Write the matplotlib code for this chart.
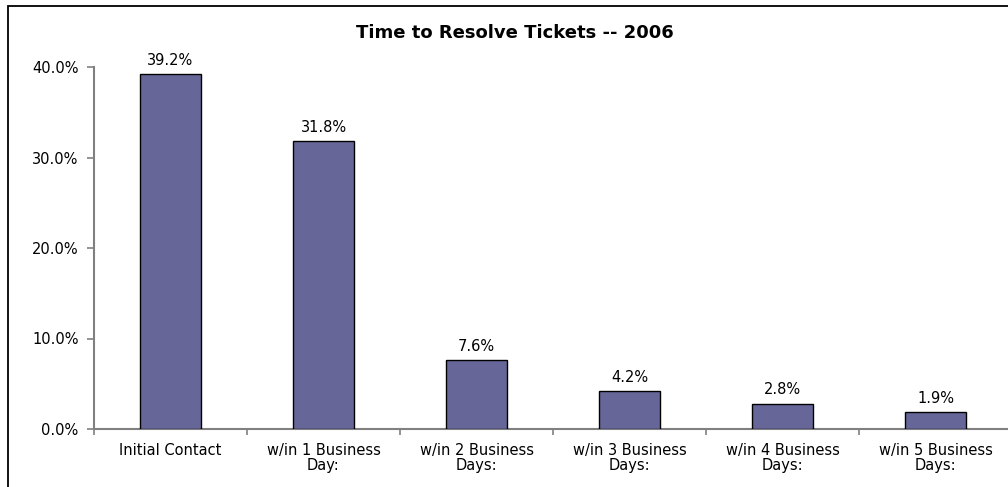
import numpy as np
import matplotlib
matplotlib.use("Agg")
import matplotlib.pyplot as plt
from matplotlib.patches import Rectangle
from matplotlib.ticker import FuncFormatter

# data
categories = ["Initial Contact", "w/in 1 Business\nDay:", "w/in 2 Business\nDays:",
              "w/in 3 Business\nDays:", "w/in 4 Business\nDays:", "w/in 5 Business\nDays:"]
shares = [39.2, 31.8, 7.6, 4.2, 2.8, 1.9]
bar_labels = ["39.2%", "31.8%", "7.6%", "4.2%", "2.8%", "1.9%"]
y_ticks = [0, 10, 20, 30, 40]

plt.rcParams['font.family'] = ['DejaVu Sans']

W, H = 1008, 487
fig = plt.figure(figsize=(W / 100, H / 100), dpi=100)

# outer chart frame (runs off the right and bottom edges)
fig.patches.append(Rectangle((8 / W, -0.2), 1.2, 1 - 6 / H + 0.2, transform=fig.transFigure,
                             fill=False, edgecolor='black', linewidth=1.3, clip_on=False))

ax = fig.add_axes([94 / W, 1 - 429 / H, (1012 - 94) / W, (429 - 67) / H])
x = np.arange(len(categories))
ax.bar(x, shares, width=0.4, color='#666699', edgecolor='black', linewidth=1.0, zorder=3)

for xi, v, lab in zip(x, shares, bar_labels):
    ax.annotate(lab, (xi, v), xytext=(0, 4.5), textcoords='offset points',
                ha='center', va='bottom', fontsize=10.5)

ax.set_xlim(-0.5, len(categories) - 0.5)
ax.set_ylim(0, 40)
ax.set_yticks(y_ticks)
ax.yaxis.set_major_formatter(FuncFormatter(lambda v, p: f"{v:.1f}%"))
ax.set_xticks(x)
ax.set_xticklabels(categories, fontsize=10.5, linespacing=1.0)
ax.set_xticks(np.arange(len(categories) + 1) - 0.5, minor=True)
ax.tick_params(axis='x', which='major', length=0, pad=10)
ax.tick_params(axis='x', which='minor', length=4, color='#808080', width=1.2, direction='out')
ax.tick_params(axis='y', length=5, color='#808080', width=1.2, direction='out', labelsize=10.5, pad=6)

for s in ['top', 'right']:
    ax.spines[s].set_visible(False)
for s in ['left', 'bottom']:
    ax.spines[s].set_color('#808080')
    ax.spines[s].set_linewidth(1.5)
ax.patch.set_visible(False)

fig.text(515 / W, 1 - 33 / H, "Time to Resolve Tickets -- 2006", ha='center', va='center',
         fontsize=13, fontweight='bold')

fig.savefig("out.png", dpi=100)
